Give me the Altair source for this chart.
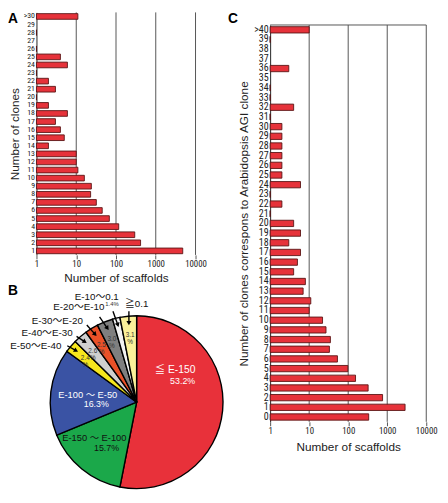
import math
import altair as alt
import pandas as pd

# ---------------- data ----------------
A_CLONES = [">30"] + [str(i) for i in range(29, 0, -1)]
A_SCAFFOLDS = [11, None, 1, None, 1, 4, 6, 1, 2, 3, 1, 2, 6, 3, 4, 5, 2, 10, 10, 11,
               16, 24, 23, 32, 45, 68, 117, 296, 415, 4770]

C_CLONES = [">40"] + [str(i) for i in range(39, -1, -1)]
C_SCAFFOLDS = [10, 1, None, None, 3, None, 1, 1, 4, 1,
               2, 2, 2, 2, 2, 2, 6, 1, 2, 1,
               4, 6, 3, 6, 5, 4, 8, 7, 11, 10,
               22, 27, 35, 33, 53, 98, 154, 324, 760, 2866, 335]

X_TICKS = [1, 10, 100, 1000, 10000]

PIE_LABELS = ["≦ E-150", "E-150〜E-100", "E-100〜E-50", "E-50〜E-40", "E-40〜E-30",
              "E-30〜E-20", "E-20〜E-10", "E-10〜0.1", "≧0.1"]
PIE_PCT = [53.2, 15.7, 16.3, 2.4, 2.6, 2.5, 3.0, 1.4, 3.1]

# ---------------- styles / layout ----------------
PIE_COLORS = ["#e8313a", "#1ba84a", "#3a53a4", "#f6e61d", "#cfcfcf",
              "#ea5128", "#7f7f7f", "#f2f2f2", "#fbf19a"]
BAR_FILL = "#e6323a"
BAR_STROKE = "#5a1414"
GRID = "#555555"
NARROW = "Liberation Sans Narrow, Roboto Condensed, DejaVu Sans Condensed, Roboto, sans-serif"
SANS = "Liberation Sans, Arial, Helvetica, sans-serif"
CJK = "Liberation Sans, Noto Sans CJK JP, sans-serif"

W, H = 440, 486

# panel A geometry
AX0, AX1 = 29, 191
AY0, AY1 = 0, 247
# panel C geometry
CX0, CX1 = 267, 426
CY0, CY1 = 12.8, 417
# pie geometry
R = 88.0
PCX, PCY = 131.0, 397.0


def bar_panel(cats, vals, x0, x1, y0, y1, ytitle, ylabsize, ytpad, xtpad, pad_inner):
    df = pd.DataFrame({"clones": cats, "n": vals})
    df = df.dropna()
    df["base"] = 1
    xscale = alt.Scale(type="log", domain=[1, 10000], range=[x0, x1], nice=False)
    xaxis = alt.Axis(orient="bottom", offset=y1 - H, values=X_TICKS, format="d",
                     title="Number of scaffolds", grid=False, domain=False,
                     tickSize=4, tickColor=GRID, labelFont=NARROW, labelFontSize=9,
                     labelColor="#222", labelPadding=1, labelFlush=False,
                     titleFont=SANS, titleFontSize=12, titleFontWeight="normal",
                     titleColor="#222", titlePadding=xtpad)
    yaxis = alt.Axis(orient="left", offset=-x0, title=ytitle, ticks=False,
                     domainColor="#222", domainWidth=1, labelFont=NARROW,
                     labelFontSize=ylabsize, labelColor="#222", labelPadding=2,
                     titleFont=SANS, titleFontSize=12, titleFontWeight="normal",
                     titleColor="#222", titlePadding=ytpad)
    yscale = alt.Scale(domain=cats, range=[y0, y1], paddingInner=pad_inner,
                       paddingOuter=pad_inner / 2)

    grid = alt.Chart(pd.DataFrame({"v": X_TICKS[1:]})).mark_rule(
        color=GRID, strokeWidth=1
    ).encode(
        x=alt.X("v:Q", scale=xscale, axis=xaxis),
        y=alt.value(y0),
        y2=alt.value(y1),
    )
    bars = alt.Chart(df).mark_bar(
        fill=BAR_FILL, stroke=BAR_STROKE, strokeWidth=0.9
    ).encode(
        x=alt.X("n:Q", scale=xscale, axis=xaxis),
        x2=alt.X2("base:Q"),
        y=alt.Y("clones:N", scale=yscale, sort=None, axis=yaxis),
    )
    return alt.layer(grid, bars)


panelA = bar_panel(A_CLONES, A_SCAFFOLDS, AX0, AX1, AY0, AY1,
                   "Number of clones", 8.0, 2, 4, 0.3)
panelC = bar_panel(C_CLONES, C_SCAFFOLDS, CX0, CX1, CY0, CY1,
                   "Number of clones correspons to Arabidopsis AGI clone", 10.2, 3, 6, 0.35)

topC = alt.Chart(pd.DataFrame({"k": [0]})).mark_rule(color=GRID, strokeWidth=1).encode(
    x=alt.value(CX0), x2=alt.value(CX1), y=alt.value(CY0)
)

# ---------------- pie ----------------
pie_df = pd.DataFrame({"label": PIE_LABELS, "pct": PIE_PCT,
                       "idx": list(range(len(PIE_LABELS)))})
pie = alt.Chart(pie_df).mark_arc(radius=R, stroke="black", strokeWidth=1.4).encode(
    theta=alt.Theta("pct:Q", stack=True),
    order=alt.Order("idx:Q"),
    color=alt.Color("label:N", scale=alt.Scale(domain=PIE_LABELS, range=PIE_COLORS),
                    legend=None),
    x=alt.value(PCX),
    y=alt.value(PCY),
)

tot = sum(PIE_PCT)
mids = []
acc = 0.0
for p in PIE_PCT:
    mids.append((acc + p / 2) / tot * 2 * math.pi)
    acc += p


def polar(a, rf):
    return rf * math.sin(a), rf * math.cos(a)


# arrow tail offsets from tip (screen px) and label offsets from tail (screen px)
ARROW_TAIL = {3: (-9, -5), 4: (-8.5, -5.5), 5: (-8.5, -9.5), 6: (-8, -11.5),
              7: (-5, -14), 8: (0, -12)}
LABEL_OFF = {3: (-6, 0), 4: (-4, -3), 5: (-4, -4), 6: (5, -10), 7: (6, -14), 8: (-4, -7)}

arrows, labels_r, labels_l = [], [], []
for i, (tdx, tdy) in ARROW_TAIL.items():
    tx, ty = polar(mids[i], 0.92)
    sx, sy = tx + tdx / R, ty - tdy / R
    ang = math.degrees(math.atan2(-tdx, tdy))
    arrows.append({"x": sx, "y": sy, "x2": tx, "y2": ty, "ang": ang})
    ldx, ldy = LABEL_OFF[i]
    row = {"x": sx + ldx / R, "y": sy - ldy / R, "t": PIE_LABELS[i]}
    (labels_l if i == 8 else labels_r).append(row)

small = []
for i in [3, 4, 5, 6, 8]:
    px, py = polar(mids[i], 0.78)
    small.append({"x": px, "y": py, "t": f"{PIE_PCT[i]:.1f}\n%"})
# the 1.4% slice is labelled outside, beside its arrow
a7 = arrows[4]
small_out = [{"x": a7["x"] - 1 / R, "y": a7["y"] + 7.5 / R, "t": f"{PIE_PCT[7]:.1f}%"}]

# big in-slice labels: (slice, name offset, pct offset, text colour, name size) px from centre
k = R / 92.0
BIG = [(0, (41, -34), (49, -23), "white", 10.5),
       (2, (-52, -8), (-43, 2), "white", 9.5),
       (1, (-45, 38), (-32, 49), "#111111", 9.5)]
big_names, big_pcts = [], []
for i, (nx, ny), (qx, qy), col, fs in BIG:
    big_names.append({"x": nx * k / R, "y": -ny * k / R,
                      "t": PIE_LABELS[i].replace("〜", " 〜 "), "c": col, "fs": fs})
    big_pcts.append({"x": qx * k / R, "y": -qy * k / R, "t": f"{PIE_PCT[i]:.1f}%", "c": col})

PX = alt.Scale(domain=[-1, 1], range=[PCX - R, PCX + R], nice=False, zero=False)
PY = alt.Scale(domain=[-1, 1], range=[PCY + R, PCY - R], nice=False, zero=False)


def pxy(extra=None):
    enc = dict(x=alt.X("x:Q", scale=PX, axis=None), y=alt.Y("y:Q", scale=PY, axis=None))
    if extra:
        enc.update(extra)
    return enc


arr_df = pd.DataFrame(arrows)
rules = alt.Chart(arr_df).mark_rule(color="black", strokeWidth=1.4).encode(
    **pxy({"x2": "x2:Q", "y2": "y2:Q"}))
heads = alt.Chart(arr_df).mark_point(shape="triangle-up", filled=True, size=26,
                                     color="black", opacity=1).encode(
    x=alt.X("x2:Q", scale=PX, axis=None), y=alt.Y("y2:Q", scale=PY, axis=None),
    angle=alt.Angle("ang:Q", scale=None))
lab_r = alt.Chart(pd.DataFrame(labels_r)).mark_text(
    align="right", baseline="middle", font=CJK, fontSize=10, color="#111"
).encode(**pxy({"text": "t:N"}))
lab_l = alt.Chart(pd.DataFrame(labels_l)).mark_text(
    align="left", baseline="middle", font=CJK, fontSize=10, color="#111"
).encode(**pxy({"text": "t:N"}))
sm = alt.Chart(pd.DataFrame(small)).mark_text(
    align="center", baseline="middle", font=SANS, fontSize=6.5, color="#333", lineBreak="\n",
    lineHeight=7
).encode(**pxy({"text": "t:N"}))
sm_out = alt.Chart(pd.DataFrame(small_out)).mark_text(
    align="center", baseline="middle", font=SANS, fontSize=6, color="#333"
).encode(**pxy({"text": "t:N"}))
bn = alt.Chart(pd.DataFrame(big_names)).mark_text(
    align="center", baseline="middle", font=CJK
).encode(**pxy({"text": "t:N", "color": alt.Color("c:N", scale=None),
                "size": alt.Size("fs:Q", scale=None)}))
bp = alt.Chart(pd.DataFrame(big_pcts)).mark_text(
    align="center", baseline="middle", font=SANS, fontSize=9
).encode(**pxy({"text": "t:N", "color": alt.Color("c:N", scale=None)}))

pie_ann = alt.layer(rules, heads, lab_r, lab_l, sm, sm_out, bn, bp)


def letter(ch, x, y):
    return alt.Chart(pd.DataFrame({"k": [0]})).mark_text(
        text=ch, align="left", baseline="top", font=SANS, fontSize=14,
        fontWeight="bold", color="black"
    ).encode(x=alt.value(x), y=alt.value(y))


chart = alt.layer(
    panelA, panelC, topC, pie, pie_ann,
    letter("A", 0, 0), letter("B", 0, 277), letter("C", 224, 0),
).resolve_scale(
    x="independent", y="independent", color="independent", theta="independent",
    size="independent"
).resolve_axis(
    x="independent", y="independent"
).properties(
    width=W, height=H, padding=0, autosize=alt.AutoSizeParams(type="none")
).configure_view(stroke=None)

chart.save("out.html", embed_options={"renderer": "svg", "actions": False})
